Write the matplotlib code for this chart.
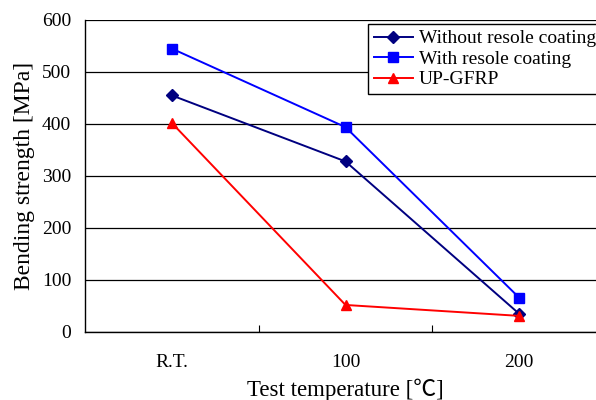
import numpy as np
import matplotlib.pyplot as plt

plt.rcParams['font.family'] = ['Liberation Serif', 'Noto Sans CJK JP', 'DejaVu Sans']

categories = ['R.T.', '100', '200']
without_coating = [455, 328, 35]
with_coating = [545, 394, 66]
up_gfrp = [402, 52, 31]

fig = plt.figure(figsize=(5.96, 4.0), dpi=100)
ax = fig.add_axes([85/596, (400-332)/400, (606-85)/596, (332-20)/400])

x = np.arange(len(categories))
ax.plot(x, without_coating, color='#000080', marker='D', markersize=6, lw=1.4,
        label='Without resole coating')
ax.plot(x, with_coating, color='#0000FF', marker='s', markersize=6.5, lw=1.4,
        label='With resole coating')
ax.plot(x, up_gfrp, color='#FF0000', marker='^', markersize=7.5, lw=1.4,
        label='UP-GFRP')

ax.set_xlim(-0.5, 2.5)
ax.set_ylim(0, 600)
ax.set_yticks(range(0, 601, 100))
ax.yaxis.grid(True, color='black', lw=0.9)
ax.set_axisbelow(True)

# category ticks sit between groups, labels at the centres
ax.set_xticks([0.5, 1.5])
ax.set_xticklabels([])
ax.set_xticks(x, minor=True)
ax.set_xticklabels(categories, minor=True)
ax.tick_params(axis='x', which='minor', length=0, pad=16, labelsize=14)
ax.tick_params(axis='x', which='major', direction='in', length=5)
ax.tick_params(axis='y', direction='in', length=0, labelsize=14, pad=10)

for s in ['top', 'right']:
    ax.spines[s].set_visible(False)
for s in ['left', 'bottom']:
    ax.spines[s].set_linewidth(1.0)

ax.set_ylabel('Bending strength [MPa]', fontsize=17, labelpad=5)
ax.set_xlabel('Test temperature [℃]', fontsize=16.5, labelpad=5)

leg = ax.legend(loc='upper left', bbox_to_anchor=((368-85)/521, (332-24)/312),
                fontsize=14, frameon=True, fancybox=False, framealpha=1,
                edgecolor='black', borderpad=0.3, labelspacing=0.15,
                handlelength=2.0, handletextpad=0.3, borderaxespad=0)
leg.get_frame().set_linewidth(1.0)

fig.savefig('out.png', dpi=100)
